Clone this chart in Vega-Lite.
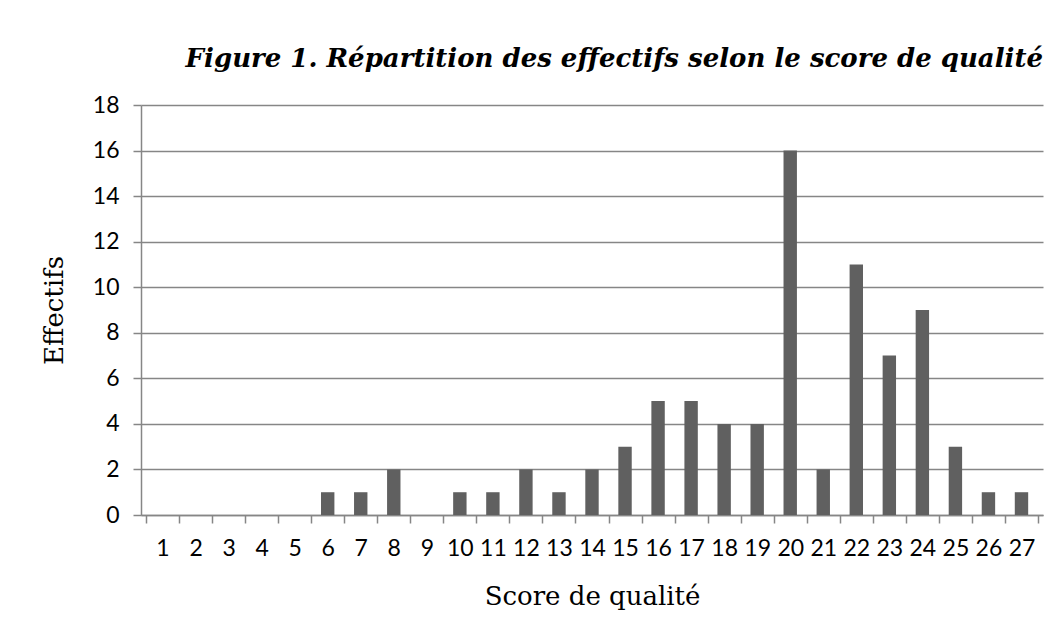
{
  "$schema": "https://vega.github.io/schema/vega-lite/v6.json",
  "width": 902,
  "height": 410,
  "autosize": "none",
  "padding": {"left": 141, "top": 105, "right": 16, "bottom": 120},
  "background": "white",
  "title": {
    "text": "Figure 1. Répartition des effectifs selon le score de qualité",
    "anchor": "end",
    "font": "DejaVu Serif",
    "fontSize": 26,
    "fontWeight": "bold",
    "fontStyle": "italic",
    "color": "black",
    "baseline": "alphabetic",
    "offset": 1
  },
  "data": {
    "values": [
      {"score": 1, "n": 0}, {"score": 2, "n": 0}, {"score": 3, "n": 0},
      {"score": 4, "n": 0}, {"score": 5, "n": 0}, {"score": 6, "n": 1},
      {"score": 7, "n": 1}, {"score": 8, "n": 2}, {"score": 9, "n": 0},
      {"score": 10, "n": 1}, {"score": 11, "n": 1}, {"score": 12, "n": 2},
      {"score": 13, "n": 1}, {"score": 14, "n": 2}, {"score": 15, "n": 3},
      {"score": 16, "n": 5}, {"score": 17, "n": 5}, {"score": 18, "n": 4},
      {"score": 19, "n": 4}, {"score": 20, "n": 16}, {"score": 21, "n": 2},
      {"score": 22, "n": 11}, {"score": 23, "n": 7}, {"score": 24, "n": 9},
      {"score": 25, "n": 3}, {"score": 26, "n": 1}, {"score": 27, "n": 1}
    ]
  },
  "mark": {"type": "bar", "width": 13.4, "color": "#606060"},
  "encoding": {
    "x": {
      "field": "score",
      "type": "quantitative",
      "scale": {"domain": [0.5, 27.5], "nice": false, "zero": false},
      "axis": {
        "title": "Score de qualité",
        "titleFont": "DejaVu Serif",
        "titleFontSize": 26,
        "titleFontWeight": "normal",
        "titleColor": "black",
        "titleBaseline": "alphabetic",
        "titleX": 451,
        "titleY": 89,
        "titleAlign": "center",
        "values": [0.5, 1, 1.5, 2, 2.5, 3, 3.5, 4, 4.5, 5, 5.5, 6, 6.5, 7, 7.5, 8, 8.5, 9, 9.5, 10, 10.5, 11, 11.5, 12, 12.5, 13, 13.5, 14, 14.5, 15, 15.5, 16, 16.5, 17, 17.5, 18, 18.5, 19, 19.5, 20, 20.5, 21, 21.5, 22, 22.5, 23, 23.5, 24, 24.5, 25, 25.5, 26, 26.5, 27, 27.5],
        "labelExpr": "datum.value % 1 === 0 ? format(datum.value, 'd') : ''",
        "labelOverlap": false,
        "labelFlush": false,
        "labelFont": "Lato",
        "labelFontSize": 23,
        "labelColor": "black",
        "labelPadding": 14,
        "tickOpacity": {"condition": {"test": "datum.value % 1 !== 0", "value": 1}, "value": 0},
        "tickSize": 8,
        "tickColor": "#868686",
        "tickWidth": 1.5,
        "domainColor": "#868686",
        "domainWidth": 1.5,
        "grid": false
      }
    },
    "y": {
      "field": "n",
      "type": "quantitative",
      "scale": {"domain": [0, 18], "nice": false},
      "axis": {
        "title": "Effectifs",
        "titleFont": "DejaVu Serif",
        "titleFontSize": 26,
        "titleFontWeight": "normal",
        "titleColor": "black",
        "titleAngle": -90,
        "titleBaseline": "alphabetic",
        "titleAlign": "center",
        "titleX": -79,
        "titleY": 205,
        "values": [0, 2, 4, 6, 8, 10, 12, 14, 16, 18],
        "labelFont": "Lato",
        "labelFontSize": 23,
        "labelColor": "black",
        "labelPadding": 14,
        "tickSize": 8,
        "tickColor": "#868686",
        "tickWidth": 1.5,
        "domainColor": "#868686",
        "domainWidth": 1.5,
        "grid": true,
        "gridColor": "#868686",
        "gridWidth": 1.5
      }
    }
  },
  "config": {
    "view": {"stroke": null}
  }
}
